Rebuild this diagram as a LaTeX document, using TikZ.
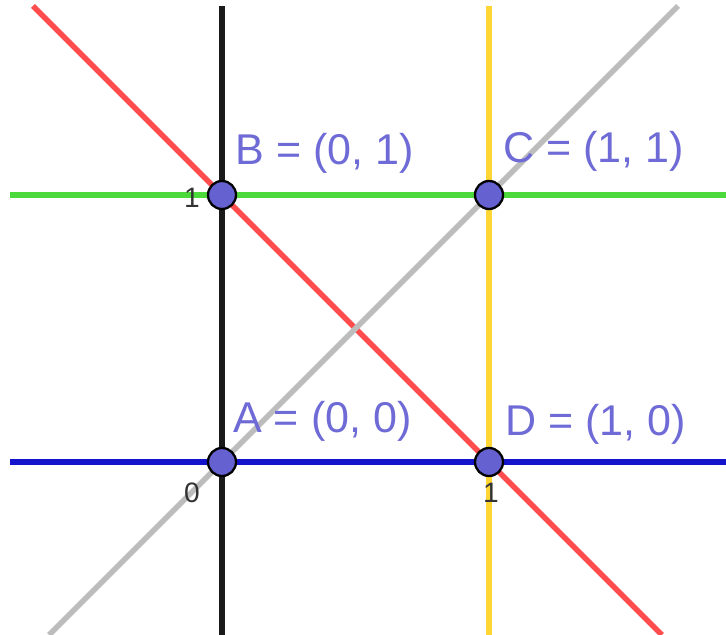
\documentclass[tikz,border=0pt]{standalone}
\usepackage{fontspec}
\setmainfont{Liberation Sans}
\usetikzlibrary{calc, positioning}
\definecolor{ggred}{HTML}{FF4D4D}
\definecolor{gggreen}{HTML}{4CD93C}
\definecolor{ggblue}{HTML}{1414CC}
\definecolor{ggyellow}{HTML}{FFD633}
\definecolor{gggray}{HTML}{BDBDBD}
\definecolor{ggaxis}{HTML}{1A1A1A}
\definecolor{ggpoint}{HTML}{6561D1}
\definecolor{gglabel}{HTML}{6E6AD6}

\tikzset{
  gline/.style={line width=3.1pt},
  gpoint/.style={circle, draw=black, line width=1.3pt, fill=ggpoint,
    inner sep=0pt, minimum size=0.56cm},
  glabel/.style={gglabel, anchor=base west, inner sep=0pt,
    font=\fontsize{24.5}{26}\selectfont},
  gtick/.style={text=black!80, inner sep=0pt, font=\fontsize{16}{18}\selectfont}
}

\begin{document}
\begin{tikzpicture}[x=5.34cm, y=5.34cm]
        \useasboundingbox (-0.8315,-0.6479) rectangle (1.8876,1.7303);
        % line ends
        \coordinate (ytop)  at (0,1.708);   \coordinate (ybot)  at (0,-0.6479);
        \coordinate (yytop) at (1,1.708);   \coordinate (yybot) at (1,-0.6479);
        \coordinate (gleft) at (-0.794,1);  \coordinate (gright) at (1.8876,1);
        \coordinate (bleft) at (-0.794,0);  \coordinate (bright) at (1.8876,0);
        \coordinate (rtop)  at (-0.708,1.708); \coordinate (rbot) at (1.6479,-0.6479);
        \coordinate (ctop)  at (1.708,1.708);  \coordinate (cbot) at (-0.6479,-0.6479);

        \draw[gline, ggaxis]   (ybot) -- (ytop);
        \draw[gline, ggyellow] (yybot) -- (yytop);
        \draw[gline, gggreen]  (gleft) -- (gright);
        \draw[gline, ggblue]   (bleft) -- (bright);
        \draw[gline, ggred]    (rtop) -- (rbot);
        \draw[gline, gggray]   (cbot) -- (ctop);

        \node[gtick] (t0)  at (-0.113,-0.116) {0};
        \node[gtick] (tx1) at (1.007,-0.116)  {1};
        \node[gtick] (ty1) at (-0.113,0.99)   {1};

        \node[gpoint] (A) at (0,0) {};
        \node[gpoint] (B) at (0,1) {};
        \node[gpoint] (C) at (1,1) {};
        \node[gpoint] (D) at (1,0) {};

        \node[glabel] (lA) at (0.041,0.109) {A = (0, 0)};
        \node[glabel] (lB) at (0.049,1.116) {B = (0, 1)};
        \node[glabel] (lC) at (1.052,1.120) {C = (1, 1)};
        \node[glabel] (lD) at (1.060,0.101) {D = (1, 0)};
      \end{tikzpicture}
\end{document}
